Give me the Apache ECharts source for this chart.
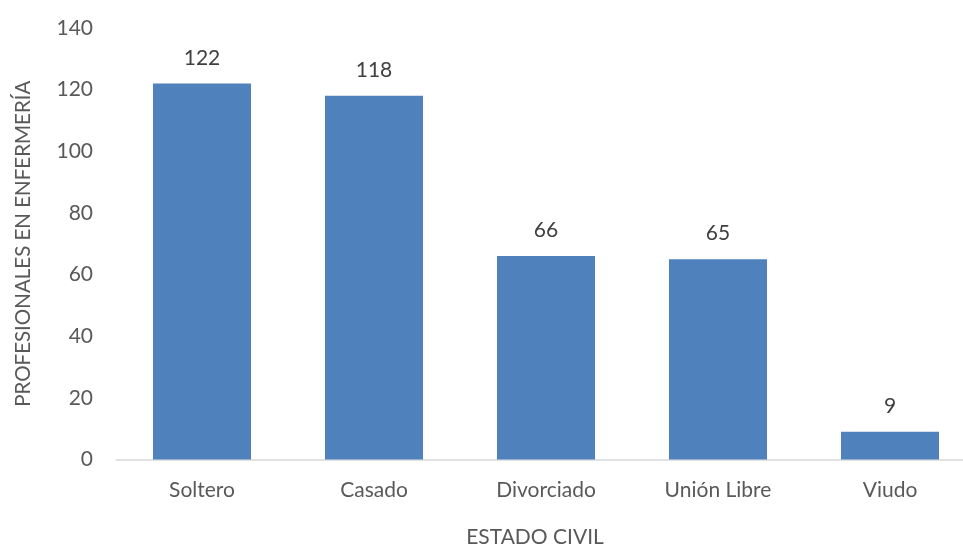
<!DOCTYPE html>
<html><head><meta charset="utf-8">
<script src="https://cdn.jsdelivr.net/npm/echarts@6/dist/echarts.min.js"></script>
<style>html,body{margin:0;padding:0;background:#fff}#c{width:963px;height:548px}</style>
</head><body><div id="c"></div>
<script>
const categories = ["Soltero", "Casado", "Divorciado", "Unión Libre", "Viudo"];
const values = [122, 118, 66, 65, 9];
const yTitle = "PROFESIONALES EN ENFERMERÍA";
const xTitle = "ESTADO CIVIL";
const font = "Lato, 'Open Sans', sans-serif";
const chart = echarts.init(document.getElementById('c'));
chart.setOption({
  animation: false,
  textStyle: { fontFamily: font },
  grid: { left: 116, width: 860, top: 28, bottom: 88.5, containLabel: false, outerBoundsMode: 'none' },
  xAxis: {
    type: 'category', data: categories,
    name: xTitle, nameLocation: 'middle', nameGap: 67,
    nameTextStyle: { color: '#595959', fontSize: 21, fontFamily: font, padding: [0, 22, 0, 0] },
    axisLine: { lineStyle: { color: '#d9d9d9', width: 1.5 } },
    axisTick: { show: false },
    axisLabel: { color: '#595959', fontSize: 21, margin: 20, fontFamily: font }
  },
  yAxis: {
    type: 'value', min: 0, max: 140, interval: 20,
    name: yTitle, nameLocation: 'middle', nameGap: 82, nameRotate: 90,
    nameTextStyle: { color: '#595959', fontSize: 20.5, fontFamily: font },
    axisLine: { show: false }, axisTick: { show: false },
    splitLine: { show: false },
    axisLabel: { color: '#595959', fontSize: 21, margin: 23, fontFamily: font }
  },
  series: [{
    type: 'bar', data: values, barWidth: '57%',
    itemStyle: { color: '#4F81BD' },
    label: { show: true, position: 'top', distance: 15, color: '#404040', fontSize: 21, fontFamily: font }
  }]
});
</script></body></html>
